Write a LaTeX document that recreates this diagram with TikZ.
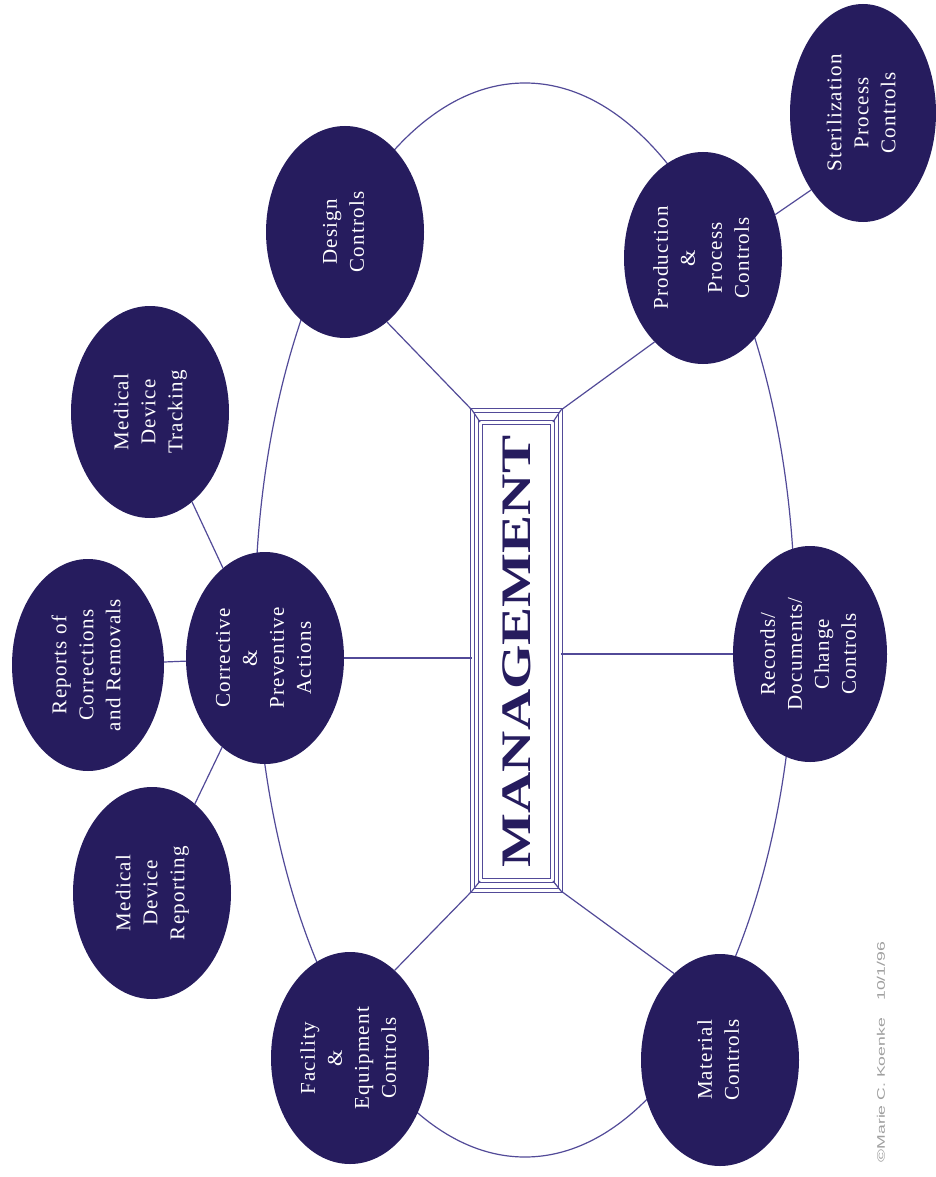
\documentclass[tikz,border=0pt]{standalone}
\usepackage{fontspec}
\usepackage{graphicx}
\setmainfont{Liberation Serif}
\newfontfamily\notefont{Liberation Sans}
\usetikzlibrary{shapes.geometric,positioning}
\definecolor{navy}{RGB}{38,28,94}
\definecolor{wire}{RGB}{82,74,152}
\newcommand{\vtext}[1]{\rotatebox{90}{\begin{tabular}{@{}c@{}}#1\end{tabular}}}
\tikzset{
  bubble/.style={ellipse,fill=navy,text=white,inner sep=0pt,
    minimum width=158pt,minimum height=212pt,
    font=\fontsize{21}{27}\selectfont\addfontfeature{LetterSpace=6}},
  link/.style={draw=wire,line width=1.2pt},
  frame/.style={rectangle,draw=wire,double,double distance=3.5pt,line width=0.9pt,inner sep=0pt}
}

\begin{document}
\begin{tikzpicture} [x=1pt,y=-1pt]
      \fill[white] (0,0) rectangle (936,1177);
      \useasboundingbox (0,0) rectangle (936,1177);
      \draw[link] (525,620) ellipse [x radius=270pt,y radius=537pt];

      \node[bubble] (design) at (345,232) {\vtext{Design\\Controls}};
      \node[bubble] (prod) at (703,258) {\vtext{Production\\\&\\Process\\Controls}};
      \node[bubble,minimum width=146pt,minimum height=218pt] (steril) at (863,113) {\vtext{Sterilization\\Process\\Controls}};
      \node[bubble] (tracking) at (150,412) {\vtext{Medical\\Device\\Tracking}};
      \node[bubble,minimum width=152pt] (reports) at (88,665) {\vtext{Reports of\\Corrections\\and Removals}};
      \node[bubble] (corrective) at (265,658) {\vtext{Corrective\\\&\\Preventive\\Actions}};
      \node[bubble] (reporting) at (152,893) {\vtext{Medical\\Device\\Reporting}};
      \node[bubble] (facility) at (350,1058) {\vtext{Facility\\\&\\Equipment\\Controls}};
      \node[bubble] (material) at (720,1060) {\vtext{Material\\Controls}};
      \node[bubble,minimum width=154pt,minimum height=216pt] (records) at (810,654) {\vtext{Records/\\Documents/\\Change\\Controls}};

      \node[frame,minimum width=88pt,minimum height=480pt] (mgmt) at (516.5,650.5) {};
      \node[frame,minimum width=72pt,minimum height=458pt,text=navy,
        font=\fontsize{42}{42}\bfseries\selectfont] (title) at (516.5,651.5)
        {\rotatebox{90}{\scalebox{1.36}[1]{MANAGEMENT}}};

      \node[text=gray!75,font=\notefont\fontsize{11}{11}\selectfont] (note) at (881,1052)
        {\rotatebox{90}{\scalebox{1.6}[1]{\textcopyright Marie C. Koenke\quad 10/1/96}}};

      \draw[link] (mgmt.north west) -- (title.north west);
      \draw[link] (mgmt.north east) -- (title.north east);
      \draw[link] (mgmt.south west) -- (title.south west);
      \draw[link] (mgmt.south east) -- (title.south east);

      \draw[link] (corrective) -- (mgmt.west |- corrective);
      \draw[link] (records) -- (mgmt.east |- records);
      \draw[link] (design.-65) -- (mgmt.north west);
      \draw[link] (prod.-120) -- (mgmt.north east);
      \draw[link] (facility.63) -- (mgmt.south west);
      \draw[link] (material.118) -- (mgmt.south east);
      \draw[link] (prod.31) -- (steril.236);
      \draw[link] (corrective) -- (reports);
      \draw[link] (corrective) -- (tracking);
      \draw[link] (corrective) -- (reporting);
\end{tikzpicture}
\end{document}
